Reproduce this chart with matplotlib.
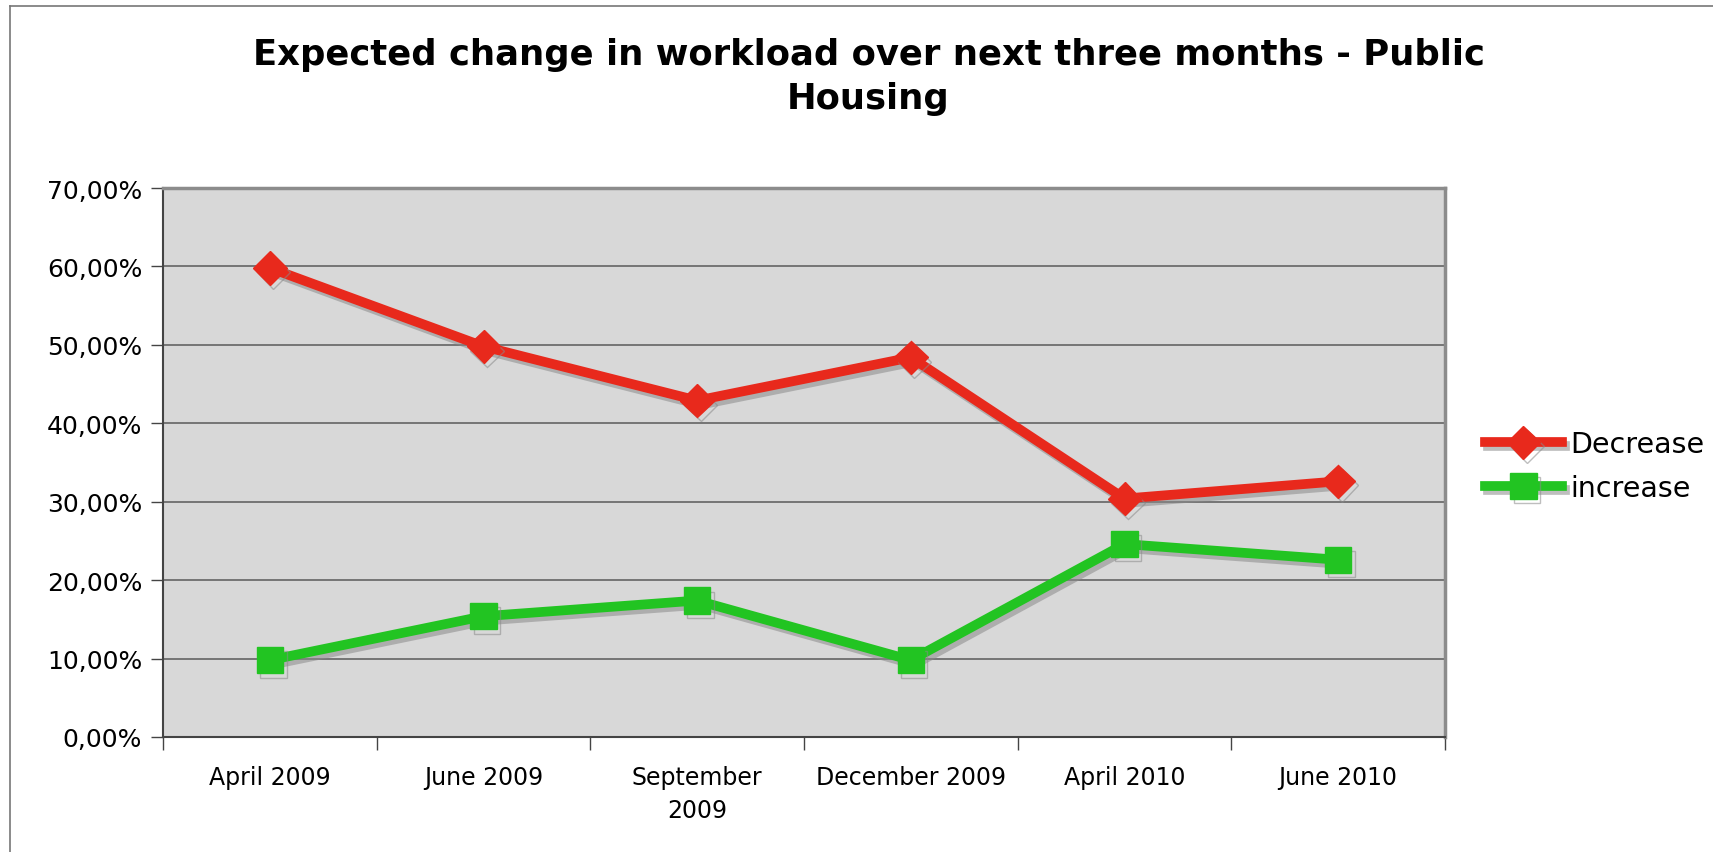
import matplotlib
matplotlib.use("Agg")
import matplotlib.pyplot as plt
import matplotlib.patheffects as pe
from matplotlib.ticker import FixedLocator, FuncFormatter
from matplotlib.lines import Line2D

categories = ["April 2009", "June 2009", "September\n2009", "December 2009", "April 2010", "June 2010"]
decrease = [59.8, 49.8, 42.9, 48.4, 30.4, 32.6]
increase = [9.8, 15.4, 17.4, 9.8, 24.6, 22.6]
series_names = ["Decrease", "increase"]
yticks = [0, 10, 20, 30, 40, 50, 60, 70]
title = "Expected change in workload over next three months - Public\nHousing"

W, H = 1713, 853
fig = plt.figure(figsize=(W / 100, H / 100), dpi=100)
plt.rcParams['font.family'] = ['DejaVu Sans']

# outer frame (top and left lines)
fig.add_artist(Line2D([10 / W, 10 / W], [0, 1 - 7 / H], transform=fig.transFigure, color='#777777', lw=1.2))
fig.add_artist(Line2D([10 / W, 1], [1 - 7 / H, 1 - 7 / H], transform=fig.transFigure, color='#777777', lw=1.2))

left, right, top, bottom = 163, 1445, 189, 738
ax = fig.add_axes([left / W, 1 - bottom / H, (right - left) / W, (bottom - top) / H])
ax.set_facecolor('#d8d8d8')

x = list(range(len(categories)))
red = '#e8291c'
green = '#22c422'
shadow = [pe.SimpleLineShadow(offset=(2.5, -3), shadow_color='#8a8a8a', alpha=0.55), pe.Normal()]

ax.plot(x, decrease, color=red, lw=7, marker='D', markersize=17, solid_joinstyle='miter',
        path_effects=shadow, zorder=3, label=series_names[0])
ax.plot(x, increase, color=green, lw=7, marker='s', markersize=19,
        path_effects=shadow, zorder=3, label=series_names[1])

ax.set_xlim(-0.5, len(categories) - 0.5)
ax.set_ylim(0, 70)
ax.yaxis.set_major_locator(FixedLocator(yticks))
ax.yaxis.set_major_formatter(FuncFormatter(lambda v, p: f"{v:.2f}%".replace('.', ',')))
ax.grid(axis='y', color='#5a5a5a', lw=1.1)
ax.set_axisbelow(True)

ax.set_xticks(x)
ax.set_xticklabels(categories, fontsize=17, linespacing=1.5)
ax.tick_params(axis='x', which='major', length=0, pad=20)
ax.set_xticks([i - 0.5 for i in range(len(categories) + 1)], minor=True)
ax.tick_params(axis='x', which='minor', length=9, color='#444444', width=1)
ax.tick_params(axis='y', labelsize=18, length=9, color='#444444', width=1, pad=6)

for s in ['left', 'bottom']:
    ax.spines[s].set_color('#444444')
    ax.spines[s].set_linewidth(1.5)
for s in ['right', 'top']:
    ax.spines[s].set_color('#8c8c8c')
    ax.spines[s].set_linewidth(2.5)

fig.text(0.507, 1 - 77 / H, title, ha='center', va='center', fontsize=25.5, fontweight='bold',
         linespacing=1.4)

handles, labels = ax.get_legend_handles_labels()
fig.legend(handles, labels, loc='center left', bbox_to_anchor=(1485 / W, 1 - 467 / H),
           frameon=False, fontsize=20.5, handlelength=2.7, handletextpad=0.3,
           labelspacing=0.55, borderpad=0, borderaxespad=0)

fig.savefig("out.png", dpi=100)
